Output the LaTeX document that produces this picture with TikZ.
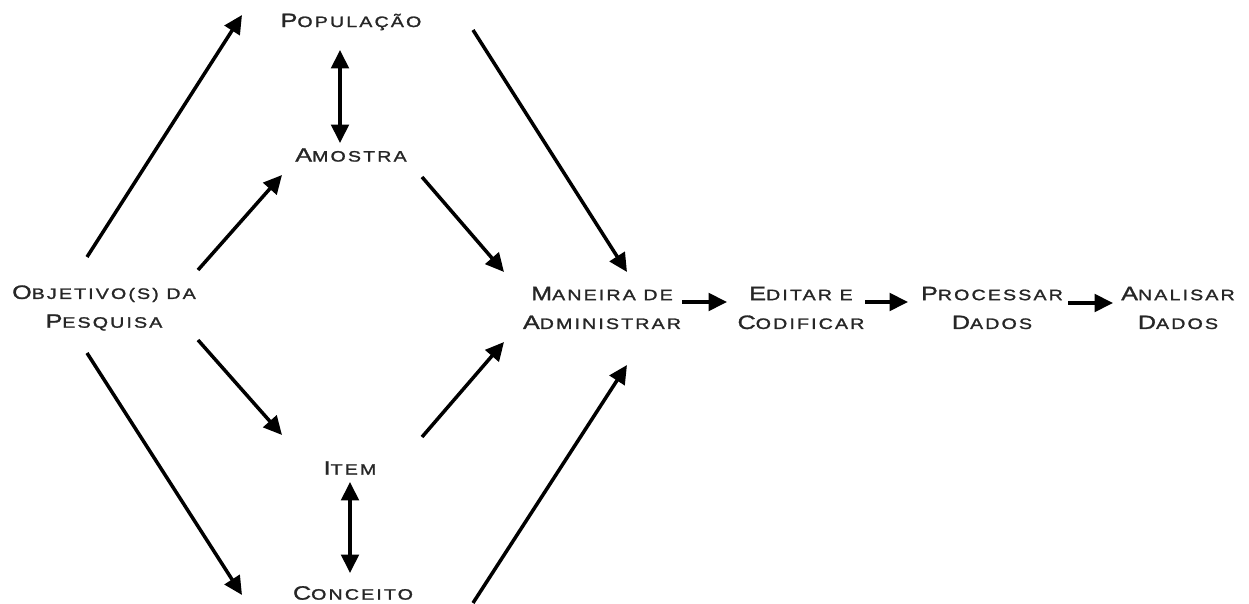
\documentclass[tikz,border=0pt]{standalone}
\usepackage{fontspec}
\usetikzlibrary{arrows.meta}
\newfontfamily\widefont[FakeStretch=1.3,LetterSpace=14,FakeBold=1.5]{Liberation Sans}
\newcommand{\SCx}[2]{{\fontsize{11}{16.4}\selectfont #1}{\fontsize{8.6}{16.4}\selectfont #2}}
\tikzset{
  lbl/.style={font=\widefont\fontsize{8.6}{16.4}\selectfont, align=center, inner sep=0pt, text=black!85},
  conn/.style={line width=2pt, -{Triangle[length=10.5pt,width=10pt]}},
  dconn/.style={line width=2pt, {Triangle[length=10.5pt,width=10pt]}-{Triangle[length=10.5pt,width=10pt]}}
}
\begin{document}
\begin{tikzpicture}[x=0.02cm,y=-0.02cm]
\useasboundingbox (0,0) rectangle (1249,604);
\node[lbl] (obj) at (104,308) {\SCx{O}{BJETIVO(S) DA}\\\SCx{P}{ESQUISA}};
\node[lbl] (pop) at (351,22) {\SCx{P}{OPULAÇÃO}};
\node[lbl] (amo) at (351,155) {\SCx{A}{MOSTRA}};
\node[lbl] (item) at (350,468) {\SCx{I}{TEM}};
\node[lbl] (con) at (353,593) {\SCx{C}{ONCEITO}};
\node[lbl] (man) at (602,308) {\SCx{M}{ANEIRA DE}\\\SCx{A}{DMINISTRAR}};
\node[lbl] (edi) at (801,308) {\SCx{E}{DITAR E}\\\SCx{C}{ODIFICAR}};
\node[lbl] (pro) at (992,308) {\SCx{P}{ROCESSAR}\\\SCx{D}{ADOS}};
\node[lbl] (ana) at (1178,308) {\SCx{A}{NALISAR}\\\SCx{D}{ADOS}};

\draw[conn] ([shift={(-17,-51)}]obj.center) -- ([shift={(-109,-7)}]pop.center);
\draw[conn] ([shift={(94,-38)}]obj.center) -- ([shift={(-69,20)}]amo.center);
\draw[conn] ([shift={(94,32)}]obj.center) -- ([shift={(-68,-33)}]item.center);
\draw[conn] ([shift={(-17,45)}]obj.center) -- ([shift={(-111,2)}]con.center);
\draw[dconn] ([shift={(-11,28)}]pop.center) -- ([shift={(-11,-12)}]amo.center);
\draw[dconn] ([shift={(0,14)}]item.center) -- ([shift={(-3,-20)}]con.center);
\draw[conn] ([shift={(122,8)}]pop.center) -- ([shift={(25,-36)}]man.center);
\draw[conn] ([shift={(71,22)}]amo.center) -- ([shift={(-98,-36)}]man.center);
\draw[conn] ([shift={(72,-31)}]item.center) -- ([shift={(-98,34)}]man.center);
\draw[conn] ([shift={(120,10)}]con.center) -- ([shift={(25,57)}]man.center);
\draw[conn] ([shift={(80,-6)}]man.center) -- ([shift={(-74,-6)}]edi.center);
\draw[conn] ([shift={(64,-6)}]edi.center) -- ([shift={(-84,-6)}]pro.center);
\draw[conn] ([shift={(76,-5)}]pro.center) -- ([shift={(-65,-5)}]ana.center);
\end{tikzpicture}
\end{document}
